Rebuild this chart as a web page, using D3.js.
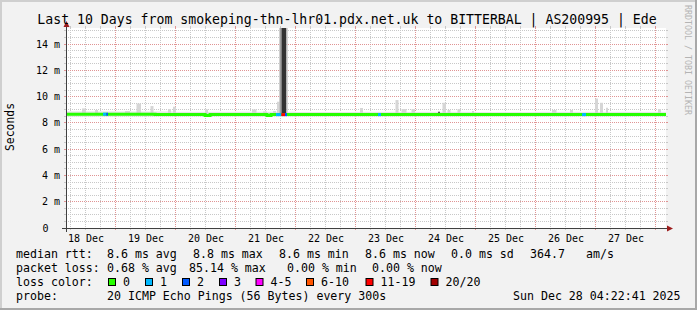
<!DOCTYPE html>
<html>
<head>
<meta charset="utf-8">
<script src="https://cdn.jsdelivr.net/npm/d3@7"></script>
<style>
  body { margin: 0; background: #fff; }
  svg text { font-family: "DejaVu Sans Mono", monospace; }
</style>
</head>
<body>
<div id="chart"></div>
<script>
// time window of the graph (2025)
const windowStart = "12-18 04:22";
const windowEnd = "12-28 04:22";

// median rtt in ms, value holds until the next time
const medianTimes = ["12-18 04:22", "12-19 16:00", "12-20 12:00", "12-20 14:00", "12-21 12:46", "12-21 14:22"];
const medianValues = [8.66, 8.63, 8.57, 8.63, 8.57, 8.63];

// faint smoke band around the median, one entry per day
const bandTimes = ["12-18 04:22", "12-19 00:00", "12-20 00:00", "12-21 00:00", "12-22 00:00",
  "12-23 00:00", "12-24 00:00", "12-25 00:00", "12-26 00:00", "12-27 00:00"];
const bandTop = [8.88, 8.87, 8.84, 8.85, 8.83, 8.84, 8.84, 8.82, 8.84, 8.84];
const bandBottom = [8.47, 8.48, 8.48, 8.47, 8.48, 8.48, 8.48, 8.48, 8.48, 8.48];

// smoke spikes (ms), shade: 0 light, 1 medium, 2 dark, 3 dark grey
const smokeStart = ["12-18 10:46", "12-18 15:58", "12-19 03:58", "12-19 08:34", "12-19 14:10",
  "12-19 21:10", "12-19 23:10", "12-20 11:58", "12-21 06:46", "12-21 11:10", "12-21 15:10",
  "12-21 16:46", "12-21 17:46", "12-21 18:34", "12-21 20:34", "12-23 01:58", "12-23 16:10",
  "12-23 18:34", "12-23 22:34", "12-24 09:10", "12-24 10:58", "12-24 12:58", "12-24 16:58",
  "12-24 22:46", "12-26 06:46", "12-26 13:58", "12-26 23:58", "12-27 01:58", "12-27 04:22",
  "12-28 01:10"];
const smokeEnd = ["12-18 12:22", "12-18 17:10", "12-19 05:58", "12-19 10:22", "12-19 15:22",
  "12-19 22:22", "12-20 00:22", "12-20 13:10", "12-21 08:34", "12-21 12:46", "12-21 16:22",
  "12-21 17:46", "12-21 18:34", "12-21 20:34", "12-21 21:10", "12-23 03:10", "12-23 17:22",
  "12-23 20:34", "12-23 23:58", "12-24 09:58", "12-24 12:22", "12-24 14:10", "12-24 18:10",
  "12-24 23:34", "12-26 08:34", "12-26 15:10", "12-27 01:10", "12-27 03:10", "12-27 05:10",
  "12-28 02:22"];
const smokeTop = [9.1, 8.98, 8.9, 9.47, 9.28, 9.05, 9.23, 9.03, 9.02, 8.87, 8.9,
  9.61, 16, 16, 16, 9.13, 9.74, 9.05, 9.05, 8.85, 9.53, 8.98, 9.05,
  8.9, 8.98, 8.98, 9.85, 9.53, 9.15, 9.05];
const smokeShade = [0, 0, 0, 0, 0, 0, 0, 0, 0, 0, 0,
  0, 1, 2, 0, 0, 0, 0, 0, 3, 0, 0, 0,
  0, 0, 0, 0, 0, 0, 0];
const smokeColors = ["#d6d6d6", "#a0a0a0", "#333333", "#5a5a5a"];

// packet loss periods (pings lost out of 20)
const lossStart = ["12-18 19:10", "12-18 20:30", "12-21 16:22", "12-21 18:30", "12-21 19:58", "12-23 09:10", "12-26 18:46"];
const lossEnd = ["12-18 20:30", "12-18 21:10", "12-21 18:30", "12-21 19:58", "12-21 20:46", "12-23 10:22", "12-26 20:22"];
const lossCount = [1, 2, 1, 15, 2, 1, 1];

// loss colour legend
const lossLabels = ["0", "1", "2", "3", "4-5", "6-10", "11-19", "20/20"];
const lossLimits = [0, 1, 2, 3, 5, 10, 19, 20];
const lossColors = ["#26ff00", "#00b8ff", "#0059ff", "#7e00ff", "#ff00ff", "#ff5500", "#ff0000", "#a10000"];
const lossBoxX = [108, 145, 182, 219, 255.5, 306, 365.5, 430.5];

// axis ticks
const yTicks = [0, 2, 4, 6, 8, 10, 12, 14];

// legend text lines
const title = "Last 10 Days from smokeping-thn-lhr01.pdx.net.uk to BITTERBAL | AS200995 | Ede";
const rttLine = [["median rtt:", 16], ["8.6 ms avg", 107], ["8.8 ms max", 193], ["8.6 ms min", 279],
  ["8.6 ms now", 365], ["0.0 ms sd", 451], ["364.7", 530], ["am/s", 586]];
const lossLine = [["packet loss:", 16], ["0.68 % avg", 107], ["85.14 % max", 189], ["0.00 % min", 287], ["0.00 % now", 372]];
const probeLine = [["probe:", 16], ["20 ICMP Echo Pings (56 Bytes) every 300s", 107], ["Sun Dec 28 04:22:41 2025", 513]];

const W = 697, H = 310;
const plot = { left: 66, right: 666, top: 28, bottom: 228 };
const parseTime = (s) => d3.timeParse("%Y-%m-%d %H:%M")("2025-" + s);
const crisp = (v) => Math.round(v) + 0.5;

const svg = d3.select("#chart").append("svg")
  .attr("width", W).attr("height", H)
  .attr("viewBox", `0 0 ${W} ${H}`);

const x = d3.scaleTime()
  .domain([parseTime(windowStart), parseTime(windowEnd)])
  .range([plot.left, plot.right]);
const y = d3.scaleLinear()
  .domain([0, 15.22])
  .range([plot.bottom, plot.top]);

drawFrame();
drawGrid();
drawSmoke();
drawMedian();
drawAxes();
drawText();

function drawFrame() {
  svg.append("rect").attr("width", W).attr("height", H).attr("fill", "#f2f2f2");
  svg.append("rect").attr("x", 0).attr("y", 0).attr("width", W).attr("height", 2).attr("fill", "#cfcfcf");
  svg.append("rect").attr("x", 0).attr("y", 0).attr("width", 2).attr("height", H).attr("fill", "#cfcfcf");
  svg.append("rect").attr("x", 0).attr("y", H - 2).attr("width", W).attr("height", 2).attr("fill", "#a8a8a8");
  svg.append("rect").attr("x", W - 2).attr("y", 0).attr("width", 2).attr("height", H).attr("fill", "#a8a8a8");

  svg.append("rect")
    .attr("x", plot.left).attr("y", plot.top)
    .attr("width", plot.right - plot.left).attr("height", plot.bottom - plot.top)
    .attr("fill", "#ffffff");
}

function drawGrid() {
  const [t0, t1] = x.domain();
  const g = svg.append("g").attr("class", "grid");

  // minor: every 6 hours / every 0.5 ms
  const minorT = d3.timeHour.every(6).range(t0, t1).filter((d) => d.getHours() !== 0);
  const majorT = d3.timeDay.range(t0, t1);
  const minorY = d3.range(0.5, 15.21, 0.5).filter((v) => v % 2 !== 0);
  const majorY = yTicks.filter((v) => v > 0);

  const vline = (list, color, dash) => {
    g.selectAll(null).data(list).join("line")
      .attr("x1", (d) => crisp(x(d) - 0.5)).attr("x2", (d) => crisp(x(d) - 0.5))
      .attr("y1", plot.top).attr("y2", plot.bottom)
      .attr("stroke", color).attr("stroke-dasharray", dash);
    // little tick stubs outside the canvas
    g.selectAll(null).data(list).join("line")
      .attr("x1", (d) => crisp(x(d) - 0.5)).attr("x2", (d) => crisp(x(d) - 0.5))
      .attr("y1", plot.bottom).attr("y2", plot.bottom + 2)
      .attr("stroke", color);
    g.selectAll(null).data(list).join("line")
      .attr("x1", (d) => crisp(x(d) - 0.5)).attr("x2", (d) => crisp(x(d) - 0.5))
      .attr("y1", plot.top - 2).attr("y2", plot.top)
      .attr("stroke", color);
  };
  const hline = (list, color, dash) => {
    g.selectAll(null).data(list).join("line")
      .attr("x1", plot.left).attr("x2", plot.right)
      .attr("y1", (d) => crisp(y(d) - 0.5)).attr("y2", (d) => crisp(y(d) - 0.5))
      .attr("stroke", color).attr("stroke-dasharray", dash);
    g.selectAll(null).data(list).join("line")
      .attr("x1", plot.left - 2).attr("x2", plot.left)
      .attr("y1", (d) => crisp(y(d) - 0.5)).attr("y2", (d) => crisp(y(d) - 0.5))
      .attr("stroke", color);
    g.selectAll(null).data(list).join("line")
      .attr("x1", plot.right).attr("x2", plot.right + 2)
      .attr("y1", (d) => crisp(y(d) - 0.5)).attr("y2", (d) => crisp(y(d) - 0.5))
      .attr("stroke", color);
  };

  vline(minorT, "#c8c8c8", "1,1");
  hline(minorY, "#c8c8c8", "1,1");
  vline(majorT, "#e09494", "1,1");
  hline(majorY, "#e09494", "1,1");
}

function drawSmoke() {
  const end = parseTime(windowEnd);
  const band = bandTimes.map((t, i) => ({
    t0: parseTime(t),
    t1: i < bandTimes.length - 1 ? parseTime(bandTimes[i + 1]) : end,
    top: bandTop[i],
    bottom: bandBottom[i],
  }));

  svg.append("g").selectAll("rect").data(band).join("rect")
    .attr("x", (d) => x(d.t0)).attr("width", (d) => x(d.t1) - x(d.t0))
    .attr("y", (d) => y(d.top)).attr("height", (d) => y(d.bottom) - y(d.top))
    .attr("fill", "#e6e6e6");

  const spikes = smokeStart.map((t, i) => ({
    t0: parseTime(t),
    t1: parseTime(smokeEnd[i]),
    top: Math.min(smokeTop[i], y.domain()[1]),
    shade: smokeShade[i],
  }));

  svg.append("g").selectAll("rect").data(spikes).join("rect")
    .attr("x", (d) => x(d.t0)).attr("width", (d) => x(d.t1) - x(d.t0))
    .attr("y", (d) => y(d.top)).attr("height", (d) => y(8.68) - y(d.top))
    .attr("fill", (d) => smokeColors[d.shade]);
}

function medianAt(t) {
  const i = d3.bisectRight(medianTimes.map(parseTime), t) - 1;
  return medianValues[Math.max(0, i)];
}

function lossColor(n) {
  const i = lossLimits.findIndex((lim) => n <= lim);
  return lossColors[i];
}

function drawMedian() {
  const points = medianTimes.map((t, i) => [parseTime(t), medianValues[i]]);
  points.push([parseTime(windowEnd), medianValues[medianValues.length - 1]]);

  const line = d3.line()
    .x((d) => x(d[0]))
    .y((d) => y(d[1]))
    .curve(d3.curveStepAfter);

  svg.append("path")
    .datum(points)
    .attr("fill", "none")
    .attr("stroke", lossColors[0])
    .attr("stroke-width", 3)
    .attr("d", line);

  // loss periods recolour the median line
  const losses = lossStart.map((t, i) => ({
    t0: parseTime(t),
    t1: parseTime(lossEnd[i]),
    n: lossCount[i],
  }));

  svg.append("g").selectAll("rect").data(losses).join("rect")
    .attr("x", (d) => x(d.t0)).attr("width", (d) => x(d.t1) - x(d.t0))
    .attr("y", (d) => y(medianAt(d.t0)) - 1.5).attr("height", 3)
    .attr("fill", (d) => lossColor(d.n));
}

function drawAxes() {
  const axisColor = "#404040";
  const arrowColor = "#9c1c1c";

  svg.append("line")
    .attr("x1", plot.left - 4).attr("x2", plot.right + 2)
    .attr("y1", plot.bottom + 0.5).attr("y2", plot.bottom + 0.5)
    .attr("stroke", axisColor);
  svg.append("line")
    .attr("x1", plot.left + 0.5).attr("x2", plot.left + 0.5)
    .attr("y1", plot.bottom + 4).attr("y2", plot.top - 4)
    .attr("stroke", axisColor);

  svg.append("path")
    .attr("d", `M${plot.right + 1},${plot.bottom - 2.5}L${plot.right + 7},${plot.bottom + 0.5}L${plot.right + 1},${plot.bottom + 3.5}Z`)
    .attr("fill", arrowColor);
  svg.append("path")
    .attr("d", `M${plot.left - 2.5},${plot.top - 1}L${plot.left + 0.5},${plot.top - 7}L${plot.left + 3.5},${plot.top - 1}Z`)
    .attr("fill", arrowColor);

  // y labels
  svg.append("g").selectAll("text").data(yTicks).join("text")
    .attr("x", (d) => (d === 0 ? 48.5 : 60))
    .attr("y", (d) => y(d) + 3.6)
    .attr("text-anchor", "end")
    .attr("font-size", 10)
    .attr("fill", "#000")
    .text((d) => (d === 0 ? "0" : `${d} m`));

  // x labels at noon of each day
  const [t0, t1] = x.domain();
  const noons = d3.timeDay.range(d3.timeDay.floor(t0), t1)
    .map((d) => d3.timeHour.offset(d, 12))
    .filter((d) => d > t0 && d < t1);
  svg.append("g").selectAll("text").data(noons).join("text")
    .attr("x", (d) => x(d) + 1)
    .attr("y", 241.5)
    .attr("text-anchor", "middle")
    .attr("font-size", 10)
    .attr("fill", "#000")
    .text(d3.timeFormat("%d %b"));

  svg.append("text")
    .attr("transform", "translate(14,127) rotate(-90)")
    .attr("text-anchor", "middle")
    .attr("font-size", 11.4)
    .attr("fill", "#000")
    .text("Seconds");
}

function drawText() {
  svg.append("text")
    .attr("x", 347).attr("y", 23.8)
    .attr("text-anchor", "middle")
    .attr("font-size", 13.2)
    .attr("fill", "#000")
    .text(title);

  svg.append("text")
    .attr("transform", "translate(685,5) rotate(90)")
    .attr("font-size", 8.3)
    .attr("fill", "#b4b4b4")
    .text("RRDTOOL / TOBI OETIKER");

  const row = (items, baseline) => {
    svg.append("g").selectAll("text").data(items).join("text")
      .attr("x", (d) => d[1]).attr("y", baseline)
      .attr("font-size", 11.6)
      .attr("fill", "#000")
      .text((d) => d[0]);
  };
  row(rttLine, 257.5);
  row(lossLine, 271.5);
  row([["loss color:", 16]], 285.5);
  row(probeLine, 299.5);

  const legend = svg.append("g");
  lossLabels.forEach((label, i) => {
    legend.append("rect")
      .attr("x", lossBoxX[i] + 0.5).attr("y", 278.5)
      .attr("width", 7).attr("height", 7)
      .attr("fill", lossColors[i])
      .attr("stroke", "#000");
    legend.append("text")
      .attr("x", lossBoxX[i] + 15).attr("y", 285.5)
      .attr("font-size", 11.6)
      .attr("fill", "#000")
      .text(label);
  });
}
</script>
</body>
</html>
